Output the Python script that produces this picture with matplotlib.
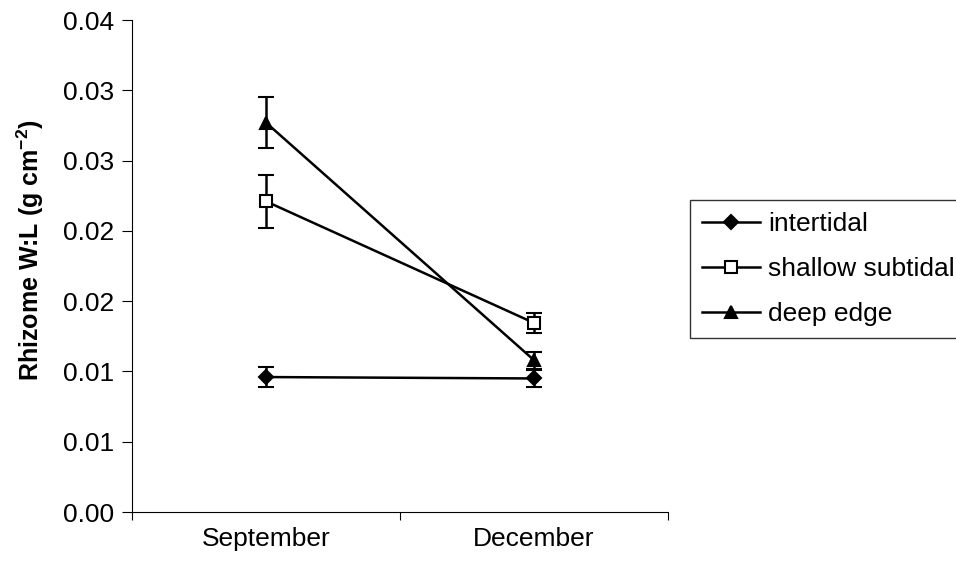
import matplotlib
matplotlib.use("Agg")
import matplotlib.pyplot as plt
from matplotlib.lines import Line2D
import numpy as np

plt.rcParams['font.family'] = ['Liberation Sans', 'DejaVu Sans']
plt.rcParams['mathtext.fontset'] = 'custom'
plt.rcParams['mathtext.rm'] = 'Liberation Sans'
plt.rcParams['mathtext.bf'] = 'Liberation Sans:bold'

months = ["September", "December"]
series = ["intertidal", "shallow subtidal", "deep edge"]
intertidal = [0.0096, 0.0095]
intertidal_err = [0.0007, 0.0006]
shallow = [0.0221, 0.01345]
shallow_err = [0.0019, 0.0007]
deep = [0.0277, 0.0108]
deep_err = [0.0018, 0.0006]
yticks = [0.0, 0.005, 0.010, 0.015, 0.020, 0.025, 0.030, 0.035]
ytick_labels = ["0.00", "0.01", "0.01", "0.02", "0.02", "0.03", "0.03", "0.04"]

fig = plt.figure(figsize=(9.56, 5.69), dpi=100)
ax = fig.add_axes([132/956, 57/569, 536/956, 492/569])

x = np.arange(len(months)) + 0.5
styles = [
    (intertidal, intertidal_err, dict(marker='D', markersize=7, markerfacecolor='black')),
    (shallow, shallow_err, dict(marker='s', markersize=8, markerfacecolor='white')),
    (deep, deep_err, dict(marker='^', markersize=9, markerfacecolor='black')),
]
handles = []
for name, (vals, errs, st) in zip(series, styles):
    ax.errorbar(x, vals, yerr=errs, color='black', linewidth=1.8, capsize=6,
                capthick=1.8, elinewidth=1.8, markeredgecolor='black',
                markeredgewidth=1.5, **st)
    handles.append(Line2D([], [], color='black', linewidth=1.8,
                          markeredgecolor='black', markeredgewidth=1.5, label=name, **st))

ax.set_xlim(0, 2)
ax.set_ylim(0, 0.035)
ax.set_yticks(yticks)
ax.set_yticklabels(ytick_labels, fontsize=19)
ax.set_xticks([0, 1, 2])
ax.set_xticklabels([])
ax.set_xticks(x, minor=True)
ax.set_xticklabels(months, minor=True, fontsize=19)
ax.tick_params(axis='x', which='minor', length=0, pad=11)
ax.tick_params(axis='x', which='major', direction='out', length=6, width=0.8)
ax.tick_params(axis='y', direction='out', length=7, width=0.8, pad=6)
ax.spines['top'].set_visible(False)
ax.spines['right'].set_visible(False)
ax.set_ylabel("Rhizome W:L (g cm$^{\\mathbf{-2}}$)", fontsize=18, fontweight='bold')
ax.yaxis.set_label_coords((46 - 132) / 536, (512 - 250) / 492)

leg = fig.legend(handles=handles, loc='upper left', bbox_to_anchor=(690/956, 1 - 200/569),
                 fontsize=19, frameon=True, fancybox=False, edgecolor='black',
                 handlelength=2.2, handletextpad=0.3, borderpad=0.45, labelspacing=0.8,
                 borderaxespad=0)
leg.get_frame().set_linewidth(1.0)

fig.savefig("out.png", dpi=100)
